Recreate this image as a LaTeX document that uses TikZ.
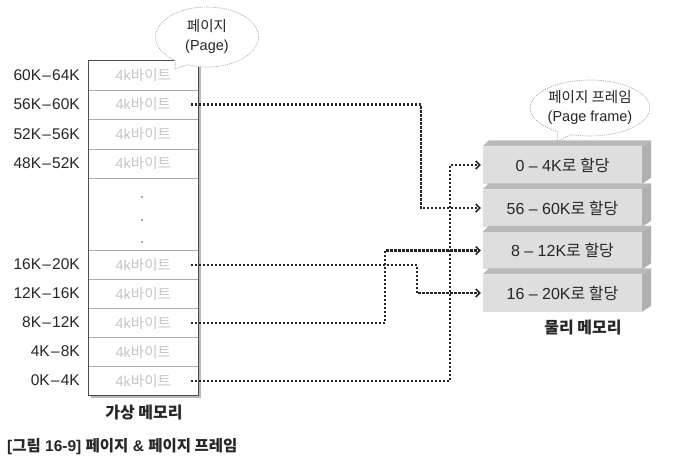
\documentclass[tikz,border=0pt]{standalone}
\usepackage{fontspec}
\setmainfont{Liberation Sans}
\newfontfamily\kr{Noto Sans CJK KR}
\usetikzlibrary{arrows.meta,shapes.callouts,calc}
\newcommand{\dsh}{\kern1.2pt–\kern1.2pt}
\begin{document}
\begin{tikzpicture}[x=1pt,y=-1pt,
  lbl/.style={anchor=east,inner sep=0pt,font=\fontsize{15.5}{17}\selectfont,text=black!85},
  vrow/.style={draw=gray!65,line width=0.6pt,minimum width=110pt,inner sep=0pt,anchor=north west,font=\fontsize{14.5}{16}\selectfont,text=gray!45},
  trow/.style={vrow,minimum height=29.5pt},
  brow/.style={vrow,minimum height=29pt},
  frame/.style={fill=gray!26,minimum width=159pt,minimum height=37pt,inner sep=0pt,font=\fontsize{16}{18}\selectfont,text=black!85},
  topface/.style={fill=gray!55},
  sideface/.style={fill=gray!62},
  conn/.style={draw=black!85,line width=2.6pt,dash pattern=on 2.2pt off 1.8pt,-{Straight Barb[length=4pt,width=8pt,line width=1.5pt]}},
  bubble/.style={ellipse callout,draw=gray!70,line width=0.6pt,dash pattern=on 1.2pt off 1pt,fill=white,align=center,inner sep=0pt,font=\fontsize{14.5}{19}\selectfont,text=black!85},
  title/.style={font=\kr\bfseries\fontsize{16}{18}\selectfont,text=black!85,inner sep=0pt}
]
\useasboundingbox (0,0) rectangle (698,471);

% virtual memory box
\fill[gray!55] (90.5,62.5) rectangle (201,397.5);
\fill[white] (88,60) rectangle (198,395);

\node[trow] (r60) at (88,60) {4k{\kr 바이트}};
\node[trow] (r56) at (88,89.5) {4k{\kr 바이트}};
\node[trow] (r52) at (88,119) {4k{\kr 바이트}};
\node[trow] (r48) at (88,148.5) {4k{\kr 바이트}};
\node[vrow,minimum height=72pt] (rdots) at (88,178) {};
\node[brow] (r16) at (88,250) {4k{\kr 바이트}};
\node[brow] (r12) at (88,279) {4k{\kr 바이트}};
\node[brow] (r8) at (88,308) {4k{\kr 바이트}};
\node[brow] (r4) at (88,337) {4k{\kr 바이트}};
\node[brow] (r0) at (88,366) {4k{\kr 바이트}};
\draw[black!70,line width=0.9pt] (88,60) rectangle (198,395);

\foreach \y in {197,220,242} \fill[black!70] (142,\y) circle (0.9pt);

% labels
\node[lbl] (l60) at (80,74.75) {60K\dsh64K};
\node[lbl] (l56) at (80,104.25) {56K\dsh60K};
\node[lbl] (l52) at (80,133.75) {52K\dsh56K};
\node[lbl] (l48) at (80,163.25) {48K\dsh52K};
\node[lbl] (l16) at (80,264.5) {16K\dsh20K};
\node[lbl] (l12) at (80,293.5) {12K\dsh16K};
\node[lbl] (l8) at (80,322.5) {8K\dsh12K};
\node[lbl] (l4) at (80,351.5) {4K\dsh8K};
\node[lbl] (l0) at (80,380.5) {0K\dsh4K};

\node[title] (vm) at (144,413) {가상 메모리};

% physical frames
\foreach \n/\yy/\t in {f0/165/{0 – 4K{\kr 로 할당}},f1/208/{56 – 60K{\kr 로 할당}},f2/250.5/{8 – 12K{\kr 로 할당}},f3/293/{16 – 20K{\kr 로 할당}}}{
  \node[frame] (\n) at (562.5,\yy) {\t};
  \fill[topface] (\n.north west) -- ++(6,-6) -- ($(\n.north east)+(9,-6)$) -- (\n.north east) -- cycle;
  \fill[sideface] (\n.north east) -- ++(9,-6) -- ($(\n.south east)+(9,-6)$) -- (\n.south east) -- cycle;
}
\node[title] (pm) at (583,328) {물리 메모리};

% connectors
\draw[conn] ([xshift=-8pt]r56.east) -| ([xshift=-62pt]f1.west) -- ([xshift=-2pt]f1.west);
\draw[conn] ([xshift=-8pt]r16.east) -| ([xshift=-66pt]f3.west) -- ([xshift=-2pt]f3.west);
\draw[conn] ([xshift=-8pt]r8.east) -| ([xshift=-98pt]f2.west) -- ([xshift=-2pt]f2.west);
\draw[conn] ([xshift=-8pt]r0.east) -| ([xshift=-33pt]f0.west) -- ([xshift=-2pt]f0.west);

% callouts
\node[bubble,minimum width=103pt,minimum height=60pt,callout absolute pointer={(175,69)}] (cpage) at (207,37) {{\kr 페이지}\\(Page)};
\node[bubble,minimum width=112pt,minimum height=56pt,callout absolute pointer={(557,141)}] (cframe) at (590,108) {{\kr 페이지 프레임}\\(Page frame)};

% caption
\node[anchor=west,inner sep=0pt,font=\fontsize{15.5}{17}\selectfont\bfseries,text=black!85] (cap) at (7,447) {[{\kr 그림} 16-9] {\kr 페이지} \& {\kr 페이지 프레임}};
\end{tikzpicture}
\end{document}
